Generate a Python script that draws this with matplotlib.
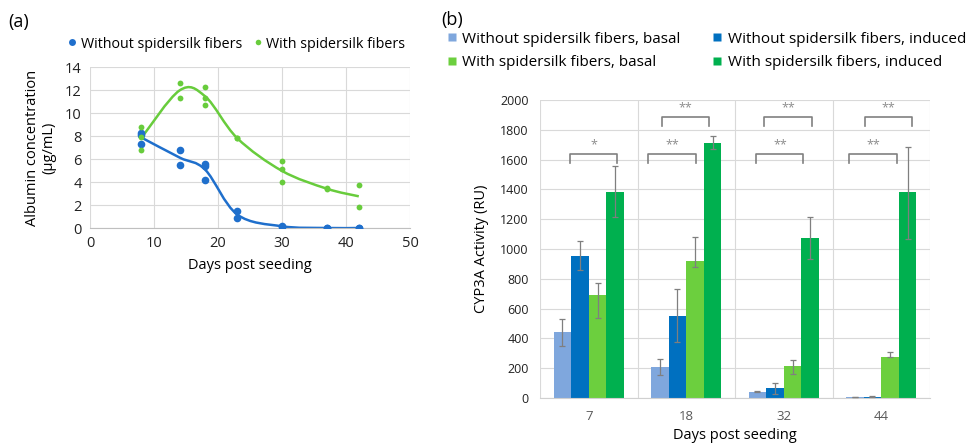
import numpy as np
import matplotlib
matplotlib.use("Agg")
import matplotlib.pyplot as plt
from matplotlib.path import Path
from matplotlib.patches import PathPatch
from matplotlib.lines import Line2D

plt.rcParams['font.family'] = ['Open Sans', 'DejaVu Sans']

# ---- panel (a): albumin, replicate points per day ----
days_a = [8, 14, 18, 23, 30, 37, 42]
without_pts = [[8.3, 8.05, 7.28], [6.75, 5.5], [5.6, 5.4, 4.2], [1.5, 0.85],
               [0.2, 0.1], [0.0, 0.0], [0.0, 0.0]]
with_pts = [[8.78, 7.9, 6.75], [12.6, 11.33], [12.3, 11.33, 10.7], [7.83, 7.8],
            [5.8, 5.1, 4.0], [3.48, 3.36], [3.71, 1.8]]

# ---- panel (b): CYP3A activity ----
days_b = ['7', '18', '32', '44']
series_b = ['Without spidersilk fibers, basal', 'Without spidersilk fibers, induced',
            'With spidersilk fibers, basal', 'With spidersilk fibers, induced']
vals_b = [[441, 206, 42, 7],
          [955, 552, 65, 10],
          [689, 922, 217, 272],
          [1380, 1714, 1073, 1380]]
err_lo = [[92, 52, 5, 3],
          [95, 175, 38, 5],
          [150, 40, 55, 0],
          [168, 43, 142, 315]]
err_hi = [[89, 54, 5, 3],
          [101, 179, 38, 5],
          [85, 156, 40, 36],
          [177, 46, 139, 307]]
# significance brackets: (x0, x1, level, label)
brackets = [(-0.19, 0.29, 'low', '*'),
            (0.61, 1.10, 'low', '**'), (0.75, 1.23, 'high', '**'),
            (1.72, 2.20, 'low', '**'), (1.80, 2.29, 'high', '**'),
            (2.67, 3.16, 'low', '**'), (2.83, 3.32, 'high', '**')]

blue_a = '#1f6fcc'
green_a = '#68cc3c'
colors_b = ['#7fa7dd', '#0070c0', '#6ccf3e', '#00b04f']
grid_c = '#d9d9d9'
tick_c = '#595959'


def smooth_path(x, y):
    # excel-style smoothed line: cubic bezier through the points
    x = np.asarray(x, float)
    y = np.asarray(y, float)
    pts = np.column_stack([x, y])
    verts = [pts[0]]
    codes = [Path.MOVETO]
    n = len(pts)
    for i in range(n - 1):
        p0 = pts[max(i - 1, 0)]
        p1 = pts[i]
        p2 = pts[i + 1]
        p3 = pts[min(i + 2, n - 1)]
        c1 = p1 + (p2 - p0) / 6.0
        c2 = p2 - (p3 - p1) / 6.0
        verts += [c1, c2, p2]
        codes += [Path.CURVE4] * 3
    return Path(verts, codes)


fig = plt.figure(figsize=(9.67, 4.46), dpi=100)

# ---------------- (a) ----------------
ax1 = fig.add_axes([90 / 967, 1 - 228 / 446, 320 / 967, 161 / 446])
for pts, col, ms in [(without_pts, blue_a, 5.5), (with_pts, green_a, 4.2)]:
    xs = [d for d, p in zip(days_a, pts) for _ in p]
    ys = [v for p in pts for v in p]
    ax1.plot(xs, ys, 'o', color=col, ms=ms, mec='none', zorder=3)
    means = [np.mean(p) for p in pts]
    ax1.add_patch(PathPatch(smooth_path(days_a, means), fc='none', ec=col, lw=1.8, zorder=2))

ax1.set_xlim(0, 50)
ax1.set_ylim(0, 14)
ax1.set_xticks(range(0, 51, 10))
ax1.set_yticks(range(0, 15, 2))
ax1.grid(True, color=grid_c, lw=0.8)
ax1.set_axisbelow(True)
for s in ['top', 'right', 'left']:
    ax1.spines[s].set_visible(False)
ax1.spines['bottom'].set_color('#bfbfbf')
ax1.tick_params(length=0, labelsize=10.5, colors='#222222', pad=6)
ax1.set_xlabel('Days post seeding', fontsize=10.5, labelpad=5)
ax1.set_ylabel('Albumin concentration\n(µg/mL)', fontsize=10.5, labelpad=6, linespacing=1.1)

h_a = [Line2D([], [], ls='none', marker='o', ms=5, color=blue_a, mec='none'),
       Line2D([], [], ls='none', marker='o', ms=4, color=green_a, mec='none')]
fig.legend(h_a, ['Without spidersilk fibers', 'With spidersilk fibers'], loc='center',
           bbox_to_anchor=(235 / 967, 1 - 44 / 446), ncol=2, frameon=False, fontsize=10.3,
           handletextpad=0.1, columnspacing=0.6, handlelength=1.0)
fig.text(8 / 967, 1 - 22 / 446, '(a)', fontsize=13, va='center', ha='left')

# ---------------- (b) ----------------
ax2 = fig.add_axes([540 / 967, 1 - 398 / 446, 390 / 967, 298 / 446])
x = np.arange(len(days_b))
w = 0.18
for i in range(4):
    ax2.bar(x + (i - 1.5) * w, vals_b[i], w, color=colors_b[i], zorder=2,
            label=series_b[i])
    ax2.errorbar(x + (i - 1.5) * w, vals_b[i], yerr=[err_lo[i], err_hi[i]], fmt='none',
                 ecolor='#7f7f7f', elinewidth=0.9, capsize=2.5, capthick=0.9, zorder=3)

low_y, high_y = 1638, 1886
for x0, x1, lev, lab in brackets:
    yy = low_y if lev == 'low' else high_y
    ax2.plot([x0, x0, x1, x1], [yy - 60, yy, yy, yy - 60], color='#808080', lw=1.2, zorder=4)
    ax2.text((x0 + x1) / 2, yy + 20, lab, ha='center', va='bottom', fontsize=9,
             color='#8c8c8c')

ax2.set_xlim(-0.5, 3.5)
ax2.set_ylim(0, 2000)
ax2.set_yticks(range(0, 2001, 200))
ax2.set_xticks(x)
ax2.set_xticklabels(days_b)
ax2.yaxis.grid(True, color=grid_c, lw=0.8)
for sep in np.arange(-0.5, 3.6, 1.0):
    ax2.axvline(sep, color=grid_c, lw=0.8, zorder=0)
for s in ['top', 'right', 'left']:
    ax2.spines[s].set_visible(False)
ax2.spines['bottom'].set_color('#d0d0d0')
ax2.set_axisbelow(True)
ax2.tick_params(axis='y', length=0, labelsize=9, colors='#222222', pad=8)
ax2.tick_params(axis='x', length=0, labelsize=9.5, colors=tick_c, pad=9)
ax2.set_xlabel('Days post seeding', fontsize=10.5, labelpad=3)
ax2.set_ylabel('CYP3A Activity (RU)', fontsize=10.5, labelpad=8)

h_b = [Line2D([], [], ls='none', marker='s', ms=6, color=c, mec='none') for c in colors_b]
order = [0, 2, 1, 3]
fig.legend([h_b[k] for k in order], [series_b[k] for k in order], loc='center',
           bbox_to_anchor=(706 / 967, 1 - 51 / 446), ncol=2, frameon=False, fontsize=11,
           handletextpad=0.3, columnspacing=2.0, handlelength=0.8, labelspacing=0.55)
fig.text(441 / 967, 1 - 20 / 446, '(b)', fontsize=13, va='center', ha='left')

fig.savefig('out.png', dpi=100)
